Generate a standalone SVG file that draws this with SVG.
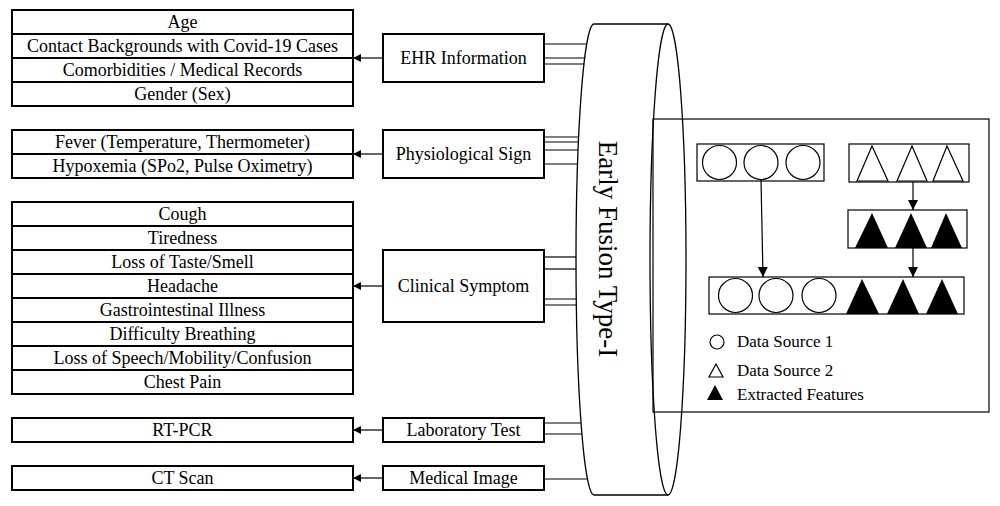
<svg xmlns="http://www.w3.org/2000/svg" width="1000" height="506" viewBox="0 0 1000 506">
<defs>
<style>
.t{font-family:"Liberation Serif","Times New Roman",serif;font-size:18px;fill:#000;text-anchor:middle}
.lg{font-family:"Liberation Serif","Times New Roman",serif;font-size:17px;fill:#000}
.row{fill:#fff;stroke:#000;stroke-width:2}
.mb{fill:#fff;stroke:#000;stroke-width:2}
.c{stroke:#000;stroke-width:1.2;fill:none}
.in{fill:#fff;stroke:#000;stroke-width:1.2}
.circ{fill:#fff;stroke:#000;stroke-width:1.2}
.otri{fill:#fff;stroke:#000;stroke-width:1.2}
.ftri{fill:#000;stroke:none}
</style>
<marker id="ah" viewBox="0 0 10 10" refX="10" refY="5" markerWidth="8" markerHeight="8" markerUnits="userSpaceOnUse" orient="auto">
<path d="M0,0 L10,5 L0,10 Z" fill="#000"/>
</marker>
<marker id="ah2" viewBox="0 0 10 10" refX="10" refY="5" markerWidth="10" markerHeight="10" markerUnits="userSpaceOnUse" orient="auto">
<path d="M0,0 L10,5 L0,10 Z" fill="#000"/>
</marker>
</defs>
<rect width="1000" height="506" fill="#fff"/>

<g id="connectors">
<line class="c" x1="383" y1="58" x2="353" y2="58" marker-end="url(#ah)"/>
<line class="c" x1="383" y1="154" x2="353" y2="154" marker-end="url(#ah)"/>
<line class="c" x1="383" y1="286" x2="353" y2="286" marker-end="url(#ah)"/>
<line class="c" x1="383" y1="430" x2="353" y2="430" marker-end="url(#ah)"/>
<line class="c" x1="383" y1="478" x2="353" y2="478" marker-end="url(#ah)"/>
<line class="c" x1="544" y1="44" x2="587" y2="44"/>
<line class="c" x1="544" y1="58" x2="585" y2="58"/>
<line class="c" x1="544" y1="64" x2="584" y2="64"/>
<line class="c" x1="544" y1="137" x2="579" y2="137"/>
<line class="c" x1="544" y1="142" x2="578.5" y2="142"/>
<line class="c" x1="544" y1="150" x2="578" y2="150"/>
<line class="c" x1="544" y1="164" x2="577.5" y2="164"/>
<line class="c" x1="544" y1="257" x2="576" y2="257"/>
<line class="c" x1="544" y1="269" x2="576" y2="269"/>
<line class="c" x1="544" y1="299" x2="576.5" y2="299"/>
<line class="c" x1="544" y1="305" x2="576.5" y2="305"/>
<line class="c" x1="544" y1="423" x2="581" y2="423"/>
<line class="c" x1="544" y1="434" x2="582" y2="434"/>
<line class="c" x1="544" y1="479" x2="587.5" y2="479"/>
</g>

<g id="ehr-list">
<rect class="row" x="12" y="10" width="341" height="24"/><text class="t" x="182.5" y="28">Age</text>
<rect class="row" x="12" y="34" width="341" height="24"/><text class="t" x="182.5" y="52">Contact Backgrounds with Covid-19 Cases</text>
<rect class="row" x="12" y="58" width="341" height="24"/><text class="t" x="182.5" y="76">Comorbidities / Medical Records</text>
<rect class="row" x="12" y="82" width="341" height="24"/><text class="t" x="182.5" y="100">Gender (Sex)</text>
</g>
<g id="phys-list">
<rect class="row" x="12" y="130" width="341" height="24"/><text class="t" x="182.5" y="148">Fever (Temperature, Thermometer)</text>
<rect class="row" x="12" y="154" width="341" height="24"/><text class="t" x="182.5" y="172">Hypoxemia (SPo2, Pulse Oximetry)</text>
</g>
<g id="clin-list">
<rect class="row" x="12" y="202" width="341" height="24"/><text class="t" x="182.5" y="220">Cough</text>
<rect class="row" x="12" y="226" width="341" height="24"/><text class="t" x="182.5" y="244">Tiredness</text>
<rect class="row" x="12" y="250" width="341" height="24"/><text class="t" x="182.5" y="268">Loss of Taste/Smell</text>
<rect class="row" x="12" y="274" width="341" height="24"/><text class="t" x="182.5" y="292">Headache</text>
<rect class="row" x="12" y="298" width="341" height="24"/><text class="t" x="182.5" y="316">Gastrointestinal Illness</text>
<rect class="row" x="12" y="322" width="341" height="24"/><text class="t" x="182.5" y="340">Difficulty Breathing</text>
<rect class="row" x="12" y="346" width="341" height="24"/><text class="t" x="182.5" y="364">Loss of Speech/Mobility/Confusion</text>
<rect class="row" x="12" y="370" width="341" height="24"/><text class="t" x="182.5" y="388">Chest Pain</text>
</g>
<g id="lab-list">
<rect class="row" x="12" y="418" width="341" height="24"/><text class="t" x="182.5" y="436">RT-PCR</text>
</g>
<g id="img-list">
<rect class="row" x="12" y="466" width="341" height="24"/><text class="t" x="182.5" y="484">CT Scan</text>
</g>

<g id="ehr"><rect class="mb" x="383" y="34" width="161" height="48"/><text class="t" x="463.5" y="64">EHR Information</text></g>
<g id="phys"><rect class="mb" x="383" y="130" width="161" height="48"/><text class="t" x="463.5" y="160">Physiological Sign</text></g>
<g id="clin"><rect class="mb" x="383" y="250" width="161" height="72"/><text class="t" x="463.5" y="292">Clinical Symptom</text></g>
<g id="lab"><rect class="mb" x="383" y="418" width="161" height="24"/><text class="t" x="463.5" y="436">Laboratory Test</text></g>
<g id="img"><rect class="mb" x="383" y="466" width="161" height="24"/><text class="t" x="463.5" y="484">Medical Image</text></g>

<g id="fusion">
<path d="M594,24 L668,24 A18,235.5 0 0 1 668,495 L594,495 A18,235.5 0 0 1 594,24 Z" fill="#fff" stroke="#000" stroke-width="1.3"/>
<path d="M668,24 A18,235.5 0 0 0 668,495" fill="none" stroke="#000" stroke-width="1.3"/>
<text x="599" y="249" transform="rotate(90 599 249)" style="font-family:'Liberation Serif','Times New Roman',serif;font-size:27px;text-anchor:middle;fill:#000">Early Fusion Type-I</text>
</g>

<g id="detail">
<rect x="653" y="119" width="336" height="293" fill="none" stroke="#000" stroke-width="1.2"/>
<g id="source1">
<rect class="in" x="697" y="144" width="127" height="37"/>
<circle class="circ" cx="719.5" cy="162.5" r="17"/>
<circle class="circ" cx="761" cy="162.5" r="17"/>
<circle class="circ" cx="803" cy="162.5" r="17"/>
</g>
<g id="source2">
<rect class="in" x="849" y="144" width="120" height="38"/>
<path class="otri" d="M872,146 L888,181 L857,181 Z"/>
<path class="otri" d="M912,146 L927,181 L897,181 Z"/>
<path class="otri" d="M947,146 L963,181 L933,181 Z"/>
</g>
<g id="extracted">
<rect class="in" x="848" y="210" width="119" height="38"/>
<path class="ftri" d="M872,213 L888,248 L855,248 Z"/>
<path class="ftri" d="M911,213 L927,248 L895,248 Z"/>
<path class="ftri" d="M946,213 L962,248 L931,248 Z"/>
</g>
<g id="fused">
<rect class="in" x="709" y="277" width="255" height="37"/>
<circle class="circ" cx="735.5" cy="295.5" r="17"/>
<circle class="circ" cx="776" cy="295.5" r="17"/>
<circle class="circ" cx="819" cy="295.5" r="17"/>
<path class="ftri" d="M862,279 L879,314 L846,314 Z"/>
<path class="ftri" d="M903,279 L919,314 L887,314 Z"/>
<path class="ftri" d="M942,279 L958,314 L926,314 Z"/>
</g>
<g id="inner-arrows">
<line class="c" x1="913" y1="182" x2="913" y2="210" marker-end="url(#ah2)"/>
<line class="c" x1="913" y1="248" x2="913" y2="277" marker-end="url(#ah2)"/>
<line class="c" x1="761" y1="180" x2="763" y2="277" marker-end="url(#ah2)"/>
</g>
<g id="legend">
<circle class="circ" cx="717" cy="342" r="7"/>
<text class="lg" x="737" y="347">Data Source 1</text>
<path class="otri" d="M716,364 L723,377 L709,377 Z"/>
<text class="lg" x="737" y="376">Data Source 2</text>
<path class="ftri" d="M715,385 L723,400 L707,400 Z"/>
<text class="lg" x="737" y="400">Extracted Features</text>
</g>
</g>
</svg>
